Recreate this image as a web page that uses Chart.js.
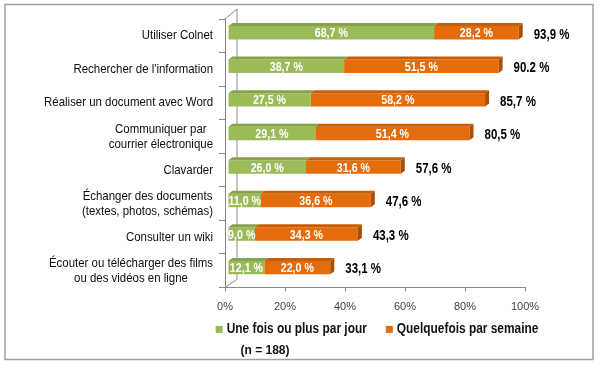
<!DOCTYPE html>
<html>
<head>
<meta charset="utf-8">
<script src="https://cdn.jsdelivr.net/npm/chart.js@4"></script>
<style>
  body { margin: 0; background: #fff; }
  canvas { display: block; }
</style>
</head>
<body>
<canvas id="chart" width="600" height="366"></canvas>
<script>
// Data
const categories = [
    'Utiliser Colnet',
    "Rechercher de l'information",
    'Réaliser un document avec Word',
    ['Communiquer par', 'courrier électronique'],
    'Clavarder',
    ['Échanger des documents', '(textes, photos, schémas)'],
    'Consulter un wiki',
    ['Écouter ou télécharger des films', 'ou des vidéos en ligne']
];
const dailyValues = [68.7, 38.7, 27.5, 29.1, 26.0, 11.0, 9.0, 12.1];
const weeklyValues = [28.2, 51.5, 58.2, 51.4, 31.6, 36.6, 34.3, 22.0];
const totalLabels = ['93,9 %', '90.2 %', '85,7 %', '80,5 %', '57,6 %', '47,6 %', '43,3 %', '33,1 %'];
const seriesNames = ['Une fois ou plus par jour', 'Quelquefois par semaine'];
const xTicks = [0, 20, 40, 60, 80, 100];
const sampleNote = '(n = 188)';

const FONT = "'Liberation Sans', Arial, sans-serif";
const GREEN = '#9BBB59';
const ORANGE = '#E46C0A';
const faceColors = [
    { top: '#86A34B', side: '#7A9442' },
    { top: '#C75D08', side: '#A94F06' }
];

function fmt(v) {
    return v.toFixed(1).replace('.', ',') + ' %';
}

// the original uses a narrow font, so squeeze the text a little
function narrowText(ctx, text, x, y, align, sx) {
    ctx.save();
    ctx.translate(x, y);
    ctx.scale(sx, 1);
    ctx.textAlign = align;
    ctx.fillText(text, 0, 0);
    ctx.restore();
}

// grey frame round the whole chart
const framePlugin = {
    id: 'frame',
    beforeDraw(chart) {
        const ctx = chart.ctx;
        ctx.save();
        ctx.strokeStyle = '#a0a0a0';
        ctx.lineWidth = 1.5;
        ctx.strokeRect(5, 4.5, 588, 355);
        ctx.restore();
    }
};

// the 3D wall behind the bars
const wallPlugin = {
    id: 'wall',
    beforeDatasetsDraw(chart) {
        const a = chart.chartArea;
        const ctx = chart.ctx;
        ctx.save();
        ctx.strokeStyle = '#8c8c8c';
        ctx.lineWidth = 1;
        ctx.beginPath();
        ctx.moveTo(a.left, a.top);
        ctx.lineTo(a.left + 12, a.top - 10);
        ctx.lineTo(a.left + 12, a.bottom - 8);
        ctx.moveTo(a.left, a.bottom);
        ctx.lineTo(a.left + 12, a.bottom - 8);
        ctx.stroke();
        ctx.restore();
    }
};

// shift bars to the back plane and draw top / side faces + labels
const depth = { dx: 4, dy: 3 };
const bars3dPlugin = {
    id: 'bars3d',
    beforeDatasetsDraw(chart) {
        chart.ctx.save();
        chart.ctx.translate(3, -3);
    },
    afterDatasetsDraw(chart) {
        const ctx = chart.ctx;
        const n = chart.data.datasets.length;
        chart.data.datasets.forEach((ds, di) => {
            const meta = chart.getDatasetMeta(di);
            meta.data.forEach((bar, i) => {
                const x0 = bar.base, x1 = bar.x;
                const top = bar.y - bar.height / 2, bottom = bar.y + bar.height / 2;
                ctx.fillStyle = faceColors[di].top;
                ctx.beginPath();
                ctx.moveTo(x0, top);
                ctx.lineTo(x0 + depth.dx, top - depth.dy);
                ctx.lineTo(x1 + depth.dx, top - depth.dy);
                ctx.lineTo(x1, top);
                ctx.closePath();
                ctx.fill();
                if (di === n - 1) {
                    ctx.fillStyle = faceColors[di].side;
                    ctx.beginPath();
                    ctx.moveTo(x1, top);
                    ctx.lineTo(x1 + depth.dx, top - depth.dy);
                    ctx.lineTo(x1 + depth.dx, bottom - depth.dy);
                    ctx.lineTo(x1, bottom);
                    ctx.closePath();
                    ctx.fill();
                }
            });
        });
        // values inside the segments
        ctx.font = 'bold 13px ' + FONT;
        ctx.fillStyle = '#ffffff';
        ctx.textBaseline = 'middle';
        chart.data.datasets.forEach((ds, di) => {
            chart.getDatasetMeta(di).data.forEach((bar, i) => {
                narrowText(ctx, fmt(ds.data[i]), (bar.base + bar.x) / 2, bar.y + 1, 'center', 0.82);
            });
        });
        // totals on the right
        ctx.font = 'bold 14px ' + FONT;
        ctx.fillStyle = '#000000';
        const last = chart.getDatasetMeta(n - 1).data;
        last.forEach((bar, i) => {
            narrowText(ctx, totalLabels[i], bar.x + depth.dx + 11, bar.y + 2, 'left', 0.82);
        });
        ctx.restore();
    }
};

// category labels: lines centred on each other, block right-aligned to the axis
const catLabelsPlugin = {
    id: 'catLabels',
    afterDraw(chart) {
        const ctx = chart.ctx;
        const y = chart.scales.y;
        const right = chart.chartArea.left - 12;
        const sx = 0.88;
        ctx.save();
        ctx.font = '13px ' + FONT;
        ctx.fillStyle = '#0d0d0d';
        ctx.textBaseline = 'middle';
        const lh = 15;
        categories.forEach((c, i) => {
            const lines = Array.isArray(c) ? c : [c];
            const w = sx * Math.max(...lines.map(l => ctx.measureText(l).width));
            const cy = y.getPixelForValue(i);
            lines.forEach((l, k) => {
                narrowText(ctx, l, right - w / 2, cy + (k - (lines.length - 1) / 2) * lh, 'center', sx);
            });
        });
        ctx.restore();
    }
};

// legend below the axis, centred on the plot area
const legendPlugin = {
    id: 'legendBelow',
    afterDraw(chart) {
        const ctx = chart.ctx;
        const a = chart.chartArea;
        const box = 7, gap = 4, between = 19, sx = 0.85;
        ctx.save();
        ctx.font = 'bold 14px ' + FONT;
        ctx.textBaseline = 'middle';
        const items = chart.data.datasets.map(ds => ({
            text: ds.label, color: ds.backgroundColor, w: sx * ctx.measureText(ds.label).width
        }));
        const total = items.reduce((s, it) => s + box + gap + it.w, 0) + between * (items.length - 1);
        let x = (a.left + a.right) / 2 + 2 - total / 2;
        const cy = a.bottom + 42;
        items.forEach(it => {
            ctx.fillStyle = it.color;
            ctx.fillRect(x, cy - box / 2, box, box);
            x += box + gap;
            ctx.fillStyle = '#111111';
            narrowText(ctx, it.text, x, cy, 'left', sx);
            x += it.w + between;
        });
        ctx.restore();
    }
};

new Chart(document.getElementById('chart'), {
    type: 'bar',
    data: {
        labels: categories,
        datasets: [{
            label: seriesNames[0],
            data: dailyValues,
            backgroundColor: GREEN,
            barPercentage: 0.4,
            categoryPercentage: 1
        }, {
            label: seriesNames[1],
            data: weeklyValues,
            backgroundColor: ORANGE,
            barPercentage: 0.4,
            categoryPercentage: 1
        }]
    },
    options: {
        indexAxis: 'y',
        responsive: false,
        animation: false,
        devicePixelRatio: 1,
        layout: { padding: { top: 19, right: 75, left: 5, bottom: 8 } },
        scales: {
            x: {
                stacked: true,
                min: xTicks[0],
                max: xTicks[xTicks.length - 1],
                afterBuildTicks(scale) {
                    scale.ticks = xTicks.map(v => ({ value: v }));
                },
                ticks: {
                    callback: v => v + '%',
                    font: { family: FONT, size: 11 },
                    color: '#404040',
                    padding: 9,
                    maxRotation: 0
                },
                grid: { drawOnChartArea: false, tickLength: 4, color: '#868686' },
                border: { color: '#868686' }
            },
            y: {
                stacked: true,
                afterFit(scale) { scale.width = 220; },
                ticks: { display: false },
                grid: { drawOnChartArea: false, tickLength: 6, color: '#868686', offset: true },
                border: { color: '#868686' }
            }
        },
        plugins: {
            legend: { display: false },
            title: {
                display: true,
                position: 'bottom',
                text: sampleNote,
                color: '#111111',
                font: { family: FONT, size: 12, weight: 'bold' },
                padding: { top: 21, bottom: 0 }
            },
            tooltip: { enabled: false }
        }
    },
    plugins: [framePlugin, wallPlugin, bars3dPlugin, catLabelsPlugin, legendPlugin]
});
</script>
</body>
</html>
